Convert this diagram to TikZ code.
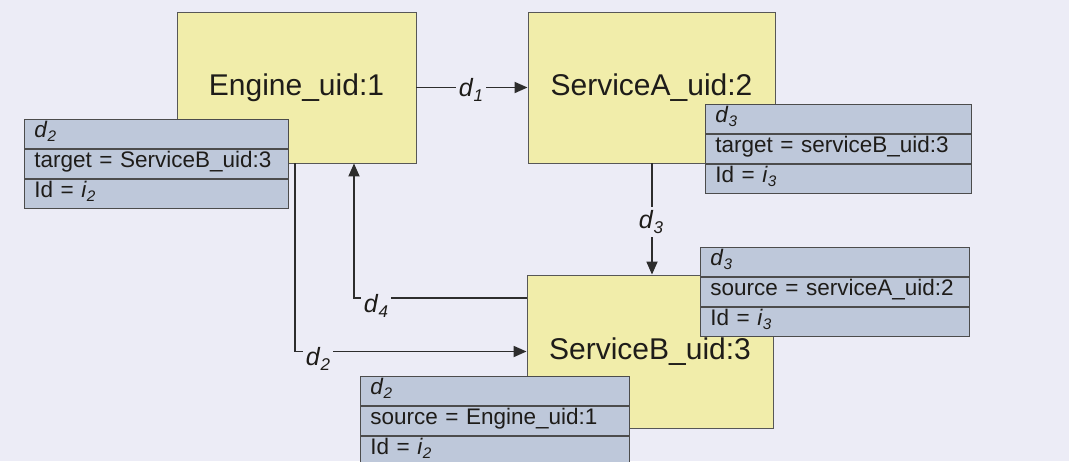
\documentclass[tikz,border=0pt]{standalone}
\usepackage{fontspec}
\setmainfont{Liberation Sans}
\usetikzlibrary{arrows.meta}
\definecolor{bgc}{RGB}{236,236,246}
\definecolor{boxy}{RGB}{241,237,170}
\definecolor{noteb}{RGB}{190,200,218}
\definecolor{linec}{RGB}{45,45,45}
\definecolor{textc}{RGB}{30,28,25}
\newcommand{\dsub}[2]{\textit{#1}\raisebox{-0.2em}{\scalebox{0.68}{\textit{#2}}}}
\begin{document}
\begin{tikzpicture}[x=1pt,y=-1pt,
 bigbox/.style={draw=linec!80, line width=0.9pt, fill=boxy, text=textc, font=\fontsize{30}{36}\selectfont, inner sep=0pt},
 cell/.style={draw=linec!85, line width=0.9pt, fill=noteb, text=textc, font=\fontsize{22.5}{27}\selectfont, anchor=north west, text height=18pt, text depth=11pt, inner ysep=0pt, inner xsep=10pt, align=left},
 conn/.style={draw=linec, line width=1.8pt},
 arr/.style={conn, -{Triangle[length=13pt,width=11pt]}},
 elabel/.style={fill=bgc, text=textc, font=\fontsize{25}{30}\selectfont, inner sep=3pt}
]
\fill[bgc] (0,0) rectangle (1069,461);
\useasboundingbox (0,0) rectangle (1069,461);

% main boxes
\node[bigbox, minimum width=239pt, minimum height=151pt] (eng) at (296.5,87.5) {Engine\_uid:1};
\node[bigbox, minimum width=247pt, minimum height=151pt] (sa) at (651.5,87.5) {ServiceA\_uid:2};
\node[bigbox, minimum width=246pt, minimum height=153pt] (sb) at (650,351.5) {ServiceB\_uid:3};

% helper coordinates
\coordinate (k2) at (295,350);
\coordinate (k4) at (354,298);

% connectors
\draw[arr] (eng.east) -- (sa.west);
\draw[arr] (sa.south -| 652,0) -- (sb.north -| 652,0);
\draw[arr] (eng.south -| k2) |- (sb.west);
\draw[arr] (sb.west |- k4) -| (eng.south -| k4);

% edge labels
\node[elabel] (l1) at (471,90) {\dsub{d}{1}};
\node[elabel] (l3) at (651,222) {\dsub{d}{3}};
\node[elabel] (l4) at (376,306) {\dsub{d}{4}};
\node[elabel] (l2) at (318,359) {\dsub{d}{2}};

% note at Engine
\node[cell, text width=244pt] (n1a) at (24,119) {\dsub{d}{2}};
\node[cell, text width=244pt] (n1b) at (n1a.south west) {target = ServiceB\_uid:3};
\node[cell, text width=244pt] (n1c) at (n1b.south west) {Id = \dsub{i}{2}};

% note at ServiceA
\node[cell, text width=246pt] (n2a) at (705,104) {\dsub{d}{3}};
\node[cell, text width=246pt] (n2b) at (n2a.south west) {target = serviceB\_uid:3};
\node[cell, text width=246pt] (n2c) at (n2b.south west) {Id = \dsub{i}{3}};

% note at ServiceB (right)
\node[cell, text width=249pt] (n3a) at (700,247) {\dsub{d}{3}};
\node[cell, text width=249pt] (n3b) at (n3a.south west) {source = serviceA\_uid:2};
\node[cell, text width=249pt] (n3c) at (n3b.south west) {Id = \dsub{i}{3}};

% note at ServiceB (bottom)
\node[cell, text width=249pt] (n4a) at (360,376) {\dsub{d}{2}};
\node[cell, text width=249pt] (n4b) at (n4a.south west) {source = Engine\_uid:1};
\node[cell, text width=249pt] (n4c) at (n4b.south west) {Id = \dsub{i}{2}};
\end{tikzpicture}
\end{document}
